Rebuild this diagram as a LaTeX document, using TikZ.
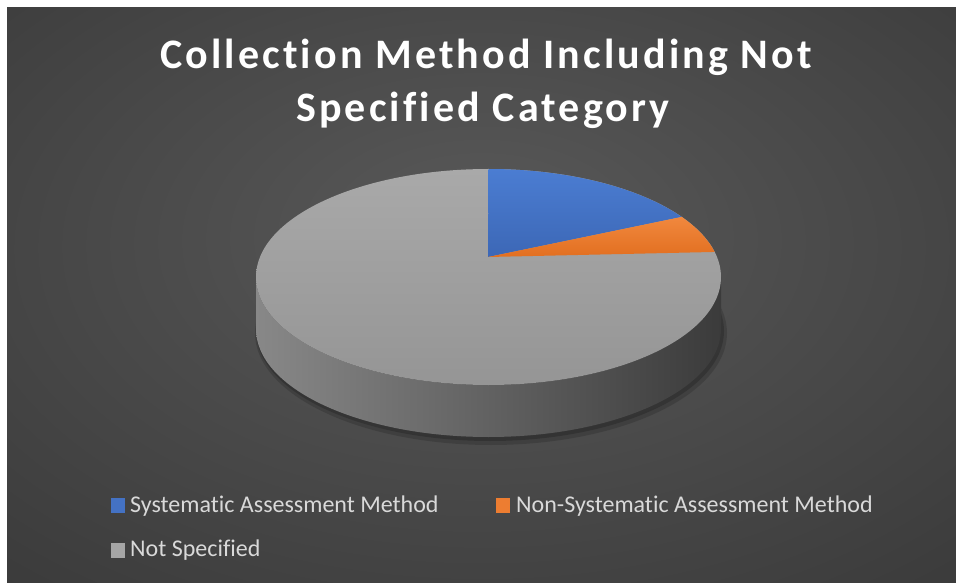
\documentclass[tikz,border=0pt]{standalone}
\usepackage{fontspec}
\setmainfont[Ligatures={NoCommon,NoContextual},RawFeature={-liga;-clig}]{Carlito}
\newfontfamily\titlefont[LetterSpace=7.5,Ligatures={NoCommon,NoContextual},RawFeature={-liga;-clig}]{Carlito}
\usetikzlibrary{positioning}

\definecolor{bginner}{HTML}{595959}
\definecolor{bgmid}{HTML}{333333}
\definecolor{bgouter}{HTML}{262626}
\definecolor{sysblue}{HTML}{4472C4}
\definecolor{sysbluetop}{HTML}{4B7DD2}
\definecolor{sysbluebot}{HTML}{3C67B6}
\definecolor{nonorange}{HTML}{ED7D31}
\definecolor{nonorangetop}{HTML}{F1883E}
\definecolor{nonorangebot}{HTML}{E26F20}
\definecolor{notgray}{HTML}{A5A5A5}
\definecolor{notgraytop}{HTML}{A9A9A9}
\definecolor{notgraybot}{HTML}{959595}
\definecolor{sideleft}{HTML}{888888}
\definecolor{sidemid}{HTML}{5E5E5E}
\definecolor{sideright}{HTML}{3B3B3B}
\definecolor{legendgray}{HTML}{D9D9D9}

\pgfdeclareradialshading{chartglow}{\pgfpoint{0bp}{6bp}}{color(0bp)=(bginner); color(48bp)=(bgmid); color(75bp)=(bgouter)}

\tikzstyle{titletext} = [anchor=base,
inner sep=0pt,
text=white,
font=\titlefont\bfseries\fontsize{42}{50}\selectfont]
\tikzstyle{legbox} = [rectangle,
minimum width=14pt,
minimum height=15pt,
inner sep=0pt]
\tikzstyle{legtext} = [anchor=base west,
inner sep=0pt,
text=legendgray,
font=\fontsize{24}{28}\selectfont]

\begin{document}
\begin{tikzpicture}[x=1pt,y=1pt]

\useasboundingbox (0,0) rectangle (956,582);
\fill[white] (0,0) rectangle (956,582);
\shade[shading=chartglow] (7,0) rectangle (956,574);

\node (titletop) [titletext] at (486,513) {Collection Method Including Not};
\node (titlebot) [titletext] at (483,460) {Specified Category};

% shadow under the pie
\fill[black, opacity=0.15] (491,249) ellipse [x radius=236, y radius=112];
\fill[black, opacity=0.18] (490,251) ellipse [x radius=234, y radius=110];

% side of the pie
\shade[left color=sideleft, middle color=sidemid, right color=sideright]
  (256,305) -- (256,253) arc[start angle=180, end angle=360, x radius=232.5, y radius=108]
  -- (721,305) arc[start angle=0, end angle=-180, x radius=232.5, y radius=108] -- cycle;

% top of the pie
\shade[top color=notgraytop, bottom color=notgraybot] (488.5,305) ellipse [x radius=232.5, y radius=108];

\shade[top color=sysbluetop, bottom color=sysbluebot]
  (488,325) -- (488.5,413) arc[start angle=90, end angle=33.8, x radius=232.5, y radius=108] -- cycle;
\shade[top color=nonorangetop, bottom color=nonorangebot]
  (488,325) -- (681.7,365.1) arc[start angle=33.8, end angle=13.4, x radius=232.5, y radius=108] -- cycle;

% legend
\node (sysbox) [legbox, fill=sysblue] at (118,76.5) {};
\node (systext) [legtext] at (130,70) {Systematic Assessment Method};
\node (nonbox) [legbox, fill=nonorange] at (502.5,76.5) {};
\node (nontext) [legtext] at (516,70) {Non-Systematic Assessment Method};
\node (notbox) [legbox, fill=notgray] at (118,32) {};
\node (nottext) [legtext] at (130,26) {Not Specified};

\end{tikzpicture}
\end{document}
